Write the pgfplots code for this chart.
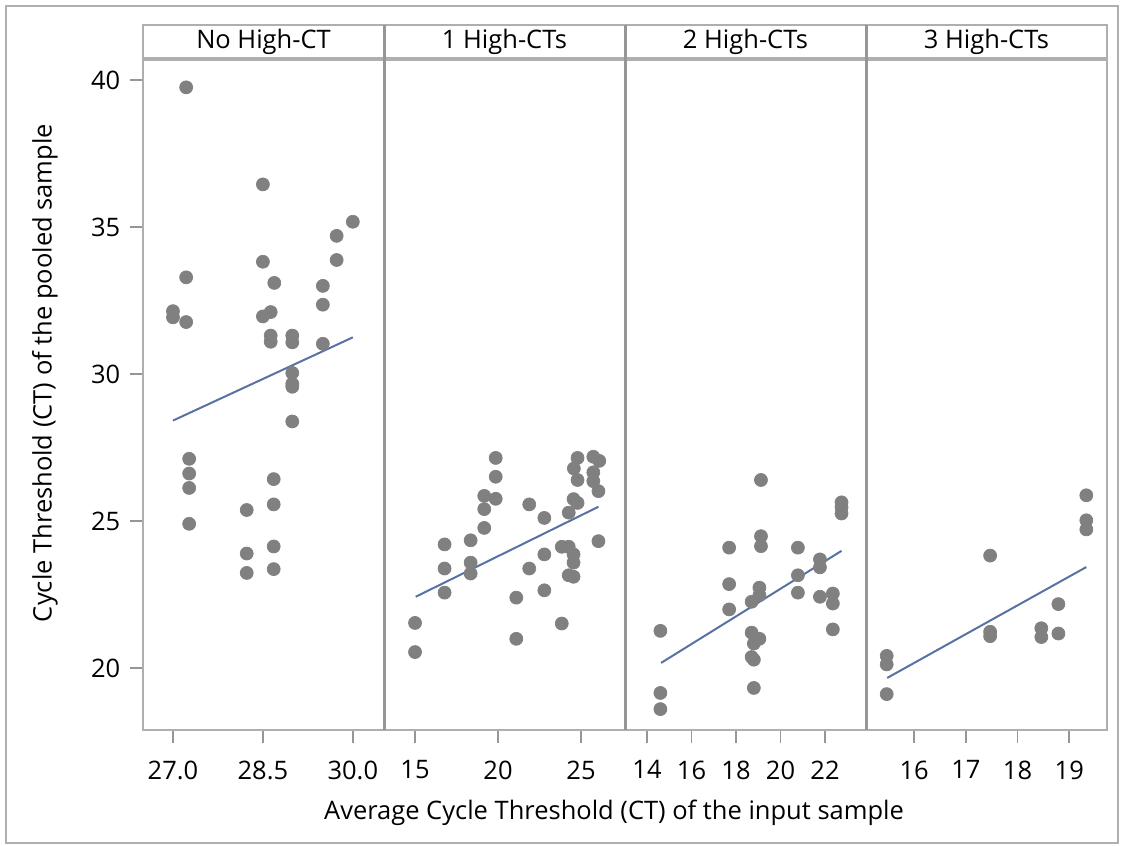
\documentclass[border=0pt]{standalone}
\usepackage{fontspec}
\setmainfont{Open Sans}
\usepackage{pgfplots}
\pgfplotsset{compat=1.18}

\definecolor{markgray}{RGB}{128,128,128}
\definecolor{fitblue}{RGB}{88,114,162}
\definecolor{framegray}{RGB}{175,175,175}
\definecolor{divgray}{RGB}{150,150,150}
\definecolor{tickgray}{RGB}{150,150,150}

\pgfplotsset{
  panel/.style={
    scale only axis, width=48.2mm, height=134mm,
    ymin=17.9, ymax=40.68,
    axis line style={draw=framegray, line width=0.4mm},
    tick style={draw=tickgray, line width=0.35mm},
    tick align=outside, major tick length=2.6mm,
    xtick pos=lower, ytick pos=left,
    ytick=\empty,
    font=\fontsize{14.5}{17}\selectfont,
    xticklabel style={yshift=-2.3mm},
    yticklabel style={xshift=-0.7mm},
    /pgf/number format/assume math mode=true,
    anchor=south west,
  },
  dots/.style={only marks, mark=*, mark size=1.3mm,
    mark options={draw=markgray, fill=markgray}},
  fit/.style={fitblue, line width=0.4mm, no marks},
}

\begin{document}
\begin{tikzpicture}[x=1mm, y=1mm]
\path (0,0) rectangle (224.6,169.2);
\draw[framegray, line width=0.3mm] (1.2,0.6) rectangle (223.6,168.0);

% No High-CT
\begin{axis}[panel, at={(28.6mm,23.2mm)}, xmin=26.5, xmax=30.52,
  xtick={27,28.5,30}, xticklabels={27.0,28.5,30.0},
  ytick={20,25,30,35,40}]
\addplot[dots] coordinates {
(27.22,39.75) (28.50,36.45) (30.00,35.18) (29.73,34.70) (29.73,33.88)
(28.50,33.82) (27.22,33.29) (28.69,33.10) (29.50,33.00) (29.50,32.36)
(27.00,32.14) (27.00,31.93) (27.22,31.77) (28.50,31.96) (28.63,32.11)
(28.63,31.31) (28.63,31.10) (28.99,31.31) (28.99,31.08) (29.50,31.03)
(28.99,30.04) (28.99,29.67) (28.99,29.57) (28.99,28.39) (27.27,27.12)
(27.27,26.62) (27.27,26.13) (27.27,24.91) (28.23,25.38) (28.23,23.90)
(28.23,23.24) (28.68,26.43) (28.68,25.57) (28.68,24.14) (28.68,23.37)
};
\addplot[fit] coordinates {(27.0,28.42) (30.0,31.25)};
\end{axis}

% 1 High-CTs
\begin{axis}[panel, at={(76.8mm,23.2mm)}, xmin=13.13, xmax=27.65,
  xtick={15,20,25}]
\addplot[dots] coordinates {
(15.00,21.54) (15.00,20.55) (16.78,24.21) (16.78,23.39) (16.78,22.57)
(18.35,24.35) (18.35,23.59) (18.35,23.22) (19.17,25.86) (19.17,25.41)
(19.17,24.77) (19.86,27.15) (19.86,26.51) (19.86,25.76) (21.10,22.40)
(21.10,21.00) (21.88,25.57) (21.88,23.39) (22.79,25.11) (22.79,23.87)
(22.79,22.65) (23.84,24.13) (23.84,21.52) (24.26,25.29) (24.26,24.13)
(24.26,23.16) (24.55,23.87) (24.55,23.59) (24.55,23.11) (24.55,25.75)
(24.79,27.15) (24.57,26.79) (24.79,26.40) (24.79,25.62) (25.74,27.19)
(26.10,27.05) (25.74,26.66) (25.74,26.36) (26.05,26.02) (26.05,24.32)
};
\addplot[fit] coordinates {(15.04,22.43) (26.05,25.49)};
\end{axis}

% 2 High-CTs
\begin{axis}[panel, at={(125.0mm,23.2mm)}, xmin=13.01, xmax=23.84,
  xtick={14,16,18,20,22}]
\addplot[dots] coordinates {
(14.60,21.27) (14.60,19.16) (14.60,18.61) (17.69,24.10) (17.69,22.86)
(17.69,22.00) (18.70,21.21) (18.80,20.84) (19.05,21.00) (18.70,20.38)
(18.80,20.29) (18.80,19.33) (18.70,22.26) (19.05,22.74) (19.05,22.48)
(19.12,26.40) (19.12,24.49) (19.12,24.15) (20.78,24.10) (20.78,23.16)
(20.78,22.57) (21.77,23.70) (21.77,23.43) (21.77,22.43) (22.35,22.54)
(22.35,22.20) (22.35,21.32) (22.74,25.64) (22.74,25.47) (22.74,25.26)
};
\addplot[fit] coordinates {(14.63,20.18) (22.74,23.99)};
\end{axis}

% 3 High-CTs
\begin{axis}[panel, at={(173.2mm,23.2mm)}, xmin=15.07, xmax=19.73,
  xtick={16,17,18,19}]
\addplot[dots] coordinates {
(15.47,20.42) (15.47,20.13) (15.47,19.12) (17.47,23.83) (17.47,21.24)
(17.47,21.09) (18.46,21.36) (18.46,21.06) (18.79,22.18) (18.79,21.18)
(19.33,25.88) (19.33,25.03) (19.33,24.72)
};
\addplot[fit] coordinates {(15.48,19.67) (19.33,23.44)};
\end{axis}

% strip headers and panel dividers
\draw[framegray, line width=0.4mm] (28.6,157.6) rectangle (221.4,164.2);
\foreach \xd in {76.8,125.0,173.2} {
  \draw[divgray, line width=0.6mm] (\xd,23.2) -- (\xd,164.2);
}
\begin{scope}[font=\fontsize{14.5}{17}\selectfont]
\node at (52.7,160.9) {No High-CT};
\node at (100.9,160.9) {1 High-CTs};
\node at (149.1,160.9) {2 High-CTs};
\node at (197.3,160.9) {3 High-CTs};
\node[rotate=90] at (9.0,94.6) {Cycle Threshold (CT) of the pooled sample};
\node at (122.8,6.6) {Average Cycle Threshold (CT) of the input sample};
\end{scope}
\end{tikzpicture}
\end{document}
